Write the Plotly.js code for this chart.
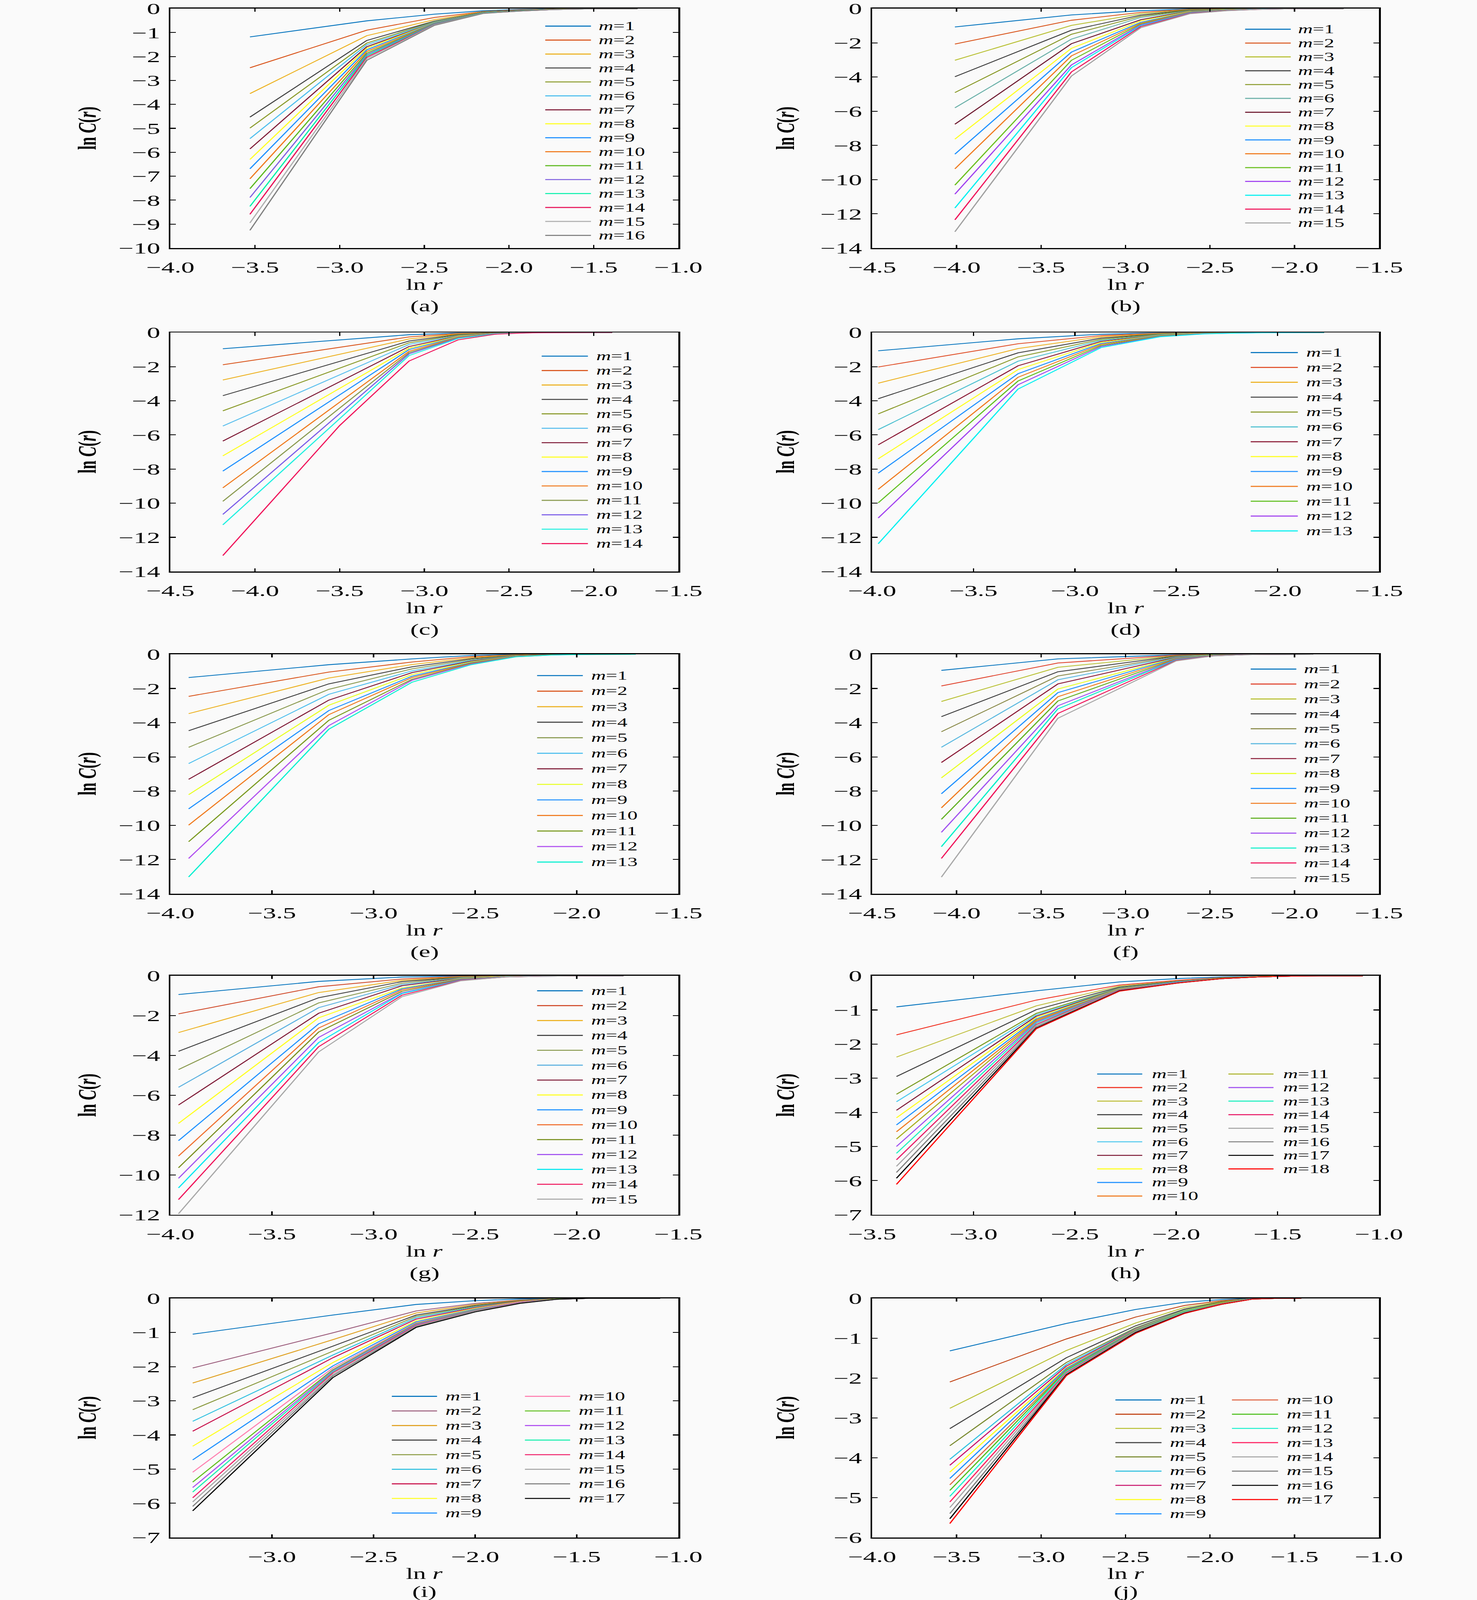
<!DOCTYPE html>
<html>
<head>
<meta charset="utf-8">
<script src="https://cdn.plot.ly/plotly-3.0.1.min.js"></script>
<style>
html, body { margin: 0; padding: 0; background: #fafafa; overflow: hidden; }
#wrap { width: 3780px; height: 6857px; transform-origin: 0 0; }
</style>
</head>
<body>
<div id="wrap"><div id="chart" style="width:3780px;height:6857px"></div></div>
<script>
// -----------------------------
// Data: ln r (x) and ln C(r) per embedding dimension m
// -----------------------------
const xA = [-3.53, -2.84, -2.44, -2.15, -1.93, -1.74, -1.59, -1.46, -1.35, -1.24];
const yA = [
  [-1.18, -0.51, -0.23, -0.09, -0.03, -0.01, 0, 0, 0, 0],
  [-2.47, -0.90, -0.37, -0.12, -0.05, -0.02, -0.01, 0, 0, 0],
  [-3.55, -1.13, -0.46, -0.13, -0.06, -0.02, -0.01, 0, 0, 0],
  [-4.53, -1.33, -0.52, -0.14, -0.06, -0.02, -0.01, 0, 0, 0],
  [-4.99, -1.44, -0.54, -0.14, -0.07, -0.03, -0.01, 0, 0, 0],
  [-5.43, -1.51, -0.56, -0.15, -0.07, -0.03, -0.01, 0, 0, 0],
  [-5.86, -1.59, -0.58, -0.15, -0.07, -0.03, -0.01, 0, 0, 0],
  [-6.30, -1.65, -0.59, -0.16, -0.08, -0.03, -0.01, 0, 0, 0],
  [-6.69, -1.72, -0.60, -0.16, -0.08, -0.03, -0.01, 0, 0, 0],
  [-7.11, -1.79, -0.62, -0.17, -0.08, -0.03, -0.01, 0, 0, 0],
  [-7.52, -1.86, -0.63, -0.17, -0.09, -0.03, -0.02, 0, 0, 0],
  [-7.89, -1.92, -0.64, -0.18, -0.09, -0.04, -0.02, 0, 0, 0],
  [-8.26, -1.97, -0.66, -0.18, -0.09, -0.04, -0.02, 0, 0, 0],
  [-8.59, -2.03, -0.67, -0.19, -0.10, -0.04, -0.02, 0, 0, 0],
  [-8.95, -2.09, -0.68, -0.19, -0.10, -0.04, -0.02, 0, 0, 0],
  [-9.26, -2.16, -0.70, -0.20, -0.10, -0.04, -0.02, 0, 0, 0]
];

const xB = [-4.01, -3.32, -2.91, -2.62, -2.40, -2.22, -2.06, -1.93, -1.81, -1.71];
const yB = [
  [-1.07, -0.37, -0.12, -0.02, -0.01, 0, 0, 0, 0, 0],
  [-2.07, -0.68, -0.22, -0.04, -0.02, -0.01, 0, 0, 0, 0],
  [-3.02, -0.98, -0.30, -0.06, -0.03, -0.01, 0, 0, 0, 0],
  [-3.98, -1.26, -0.38, -0.08, -0.03, -0.01, 0, 0, 0, 0],
  [-4.91, -1.50, -0.45, -0.10, -0.04, -0.02, -0.01, 0, 0, 0],
  [-5.80, -1.78, -0.52, -0.12, -0.05, -0.02, -0.01, 0, 0, 0],
  [-6.76, -2.05, -0.65, -0.14, -0.06, -0.02, -0.01, 0, 0, 0],
  [-7.63, -2.32, -0.72, -0.16, -0.06, -0.03, -0.01, 0, 0, 0],
  [-8.51, -2.54, -0.80, -0.18, -0.07, -0.03, -0.01, 0, 0, 0],
  [-9.37, -2.76, -0.85, -0.20, -0.08, -0.03, -0.01, 0, 0, 0],
  [-10.32, -3.02, -0.90, -0.22, -0.09, -0.04, -0.02, 0, 0, 0],
  [-10.85, -3.29, -0.95, -0.24, -0.10, -0.04, -0.02, 0, 0, 0],
  [-11.66, -3.45, -1.00, -0.26, -0.10, -0.04, -0.02, 0, 0, 0],
  [-12.35, -3.70, -1.05, -0.28, -0.11, -0.05, -0.02, 0, 0, 0],
  [-13.05, -3.94, -1.12, -0.30, -0.12, -0.05, -0.02, 0, 0, 0]
];

const xC = [-4.19, -3.50, -3.09, -2.80, -2.58, -2.40, -2.24, -2.11, -1.99, -1.89];
const yC = [
  [-0.95, -0.44, -0.13, -0.03, -0.01, 0, 0, 0, 0, 0],
  [-1.89, -0.87, -0.26, -0.06, -0.01, 0, 0, 0, 0, 0],
  [-2.78, -1.28, -0.38, -0.09, -0.02, 0, 0, 0, 0, 0],
  [-3.70, -1.70, -0.50, -0.12, -0.02, -0.01, 0, 0, 0, 0],
  [-4.59, -2.09, -0.60, -0.15, -0.03, -0.01, 0, 0, 0, 0],
  [-5.48, -2.48, -0.70, -0.18, -0.04, -0.01, 0, 0, 0, 0],
  [-6.36, -2.89, -0.82, -0.20, -0.04, -0.01, 0, 0, 0, 0],
  [-7.23, -3.27, -0.92, -0.22, -0.05, -0.01, 0, 0, 0, 0],
  [-8.12, -3.66, -1.00, -0.25, -0.05, -0.01, 0, 0, 0, 0],
  [-9.10, -4.08, -1.10, -0.27, -0.06, -0.02, 0, 0, 0, 0],
  [-9.89, -4.43, -1.18, -0.30, -0.06, -0.02, 0, 0, 0, 0],
  [-10.66, -4.76, -1.25, -0.32, -0.07, -0.02, 0, 0, 0, 0],
  [-11.27, -5.05, -1.35, -0.35, -0.08, -0.02, 0, 0, 0, 0],
  [-13.07, -5.45, -1.67, -0.43, -0.10, -0.02, -0.01, 0, 0, 0]
];

const xD = [-3.97, -3.28, -2.87, -2.58, -2.36, -2.18, -2.02, -1.89, -1.77];
const yD = [
  [-1.07, -0.37, -0.10, -0.02, -0.01, 0, 0, 0, 0],
  [-2.02, -0.66, -0.18, -0.04, -0.01, 0, 0, 0, 0],
  [-2.97, -0.94, -0.25, -0.06, -0.02, -0.01, 0, 0, 0],
  [-3.88, -1.19, -0.33, -0.08, -0.02, -0.01, 0, 0, 0],
  [-4.77, -1.43, -0.40, -0.10, -0.03, -0.01, 0, 0, 0],
  [-5.69, -1.68, -0.46, -0.12, -0.03, -0.01, 0, 0, 0],
  [-6.58, -1.95, -0.52, -0.14, -0.04, -0.01, 0, 0, 0],
  [-7.40, -2.17, -0.58, -0.15, -0.04, -0.02, 0, 0, 0],
  [-8.24, -2.41, -0.64, -0.17, -0.05, -0.02, -0.01, 0, 0],
  [-9.19, -2.62, -0.70, -0.19, -0.05, -0.02, -0.01, 0, 0],
  [-9.98, -2.84, -0.76, -0.21, -0.06, -0.02, -0.01, 0, 0],
  [-10.87, -3.06, -0.82, -0.23, -0.07, -0.03, -0.01, 0, 0],
  [-12.38, -3.31, -0.88, -0.25, -0.08, -0.03, -0.01, 0, 0]
];

const xE = [-3.91, -3.22, -2.81, -2.52, -2.30, -2.12, -1.96, -1.83, -1.71];
const yE = [
  [-1.36, -0.61, -0.27, -0.07, -0.01, 0, 0, 0, 0],
  [-2.46, -1.04, -0.45, -0.14, -0.03, -0.01, 0, 0, 0],
  [-3.47, -1.39, -0.60, -0.20, -0.04, -0.01, 0, 0, 0],
  [-4.47, -1.73, -0.73, -0.26, -0.06, -0.01, 0, 0, 0],
  [-5.44, -2.05, -0.85, -0.31, -0.07, -0.02, 0, 0, 0],
  [-6.39, -2.34, -0.97, -0.36, -0.08, -0.02, 0, 0, 0],
  [-7.31, -2.68, -1.07, -0.40, -0.09, -0.02, 0, 0, 0],
  [-8.21, -2.98, -1.18, -0.44, -0.10, -0.03, 0, 0, 0],
  [-9.04, -3.29, -1.28, -0.48, -0.11, -0.03, -0.01, 0, 0],
  [-9.99, -3.53, -1.36, -0.51, -0.12, -0.03, -0.01, 0, 0],
  [-10.96, -3.86, -1.46, -0.54, -0.13, -0.03, -0.01, 0, 0],
  [-11.94, -4.17, -1.52, -0.57, -0.14, -0.04, -0.01, 0, 0],
  [-13.02, -4.38, -1.63, -0.61, -0.15, -0.04, -0.01, 0, 0]
];

const xF = [-4.09, -3.40, -2.99, -2.70, -2.48, -2.30, -2.14, -2.01, -1.89];
const yF = [
  [-0.94, -0.27, -0.13, -0.03, -0.01, 0, 0, 0, 0],
  [-1.85, -0.51, -0.24, -0.05, -0.01, 0, 0, 0, 0],
  [-2.76, -0.76, -0.36, -0.08, -0.02, 0, 0, 0, 0],
  [-3.65, -1.02, -0.48, -0.10, -0.03, -0.01, 0, 0, 0],
  [-4.53, -1.27, -0.60, -0.12, -0.03, -0.01, 0, 0, 0],
  [-5.44, -1.49, -0.70, -0.15, -0.04, -0.01, 0, 0, 0],
  [-6.33, -1.73, -0.82, -0.18, -0.05, -0.01, 0, 0, 0],
  [-7.23, -2.03, -0.96, -0.20, -0.05, -0.02, 0, 0, 0],
  [-8.16, -2.24, -1.06, -0.22, -0.06, -0.02, 0, 0, 0],
  [-8.98, -2.48, -1.17, -0.25, -0.07, -0.02, 0, 0, 0],
  [-9.65, -2.73, -1.29, -0.28, -0.07, -0.02, -0.01, 0, 0],
  [-10.41, -3.01, -1.42, -0.30, -0.08, -0.02, -0.01, 0, 0],
  [-11.25, -3.19, -1.51, -0.33, -0.09, -0.03, -0.01, 0, 0],
  [-11.94, -3.46, -1.64, -0.36, -0.09, -0.03, -0.01, 0, 0],
  [-13.03, -3.74, -1.78, -0.39, -0.10, -0.03, -0.01, 0, 0]
];

const xG = [-3.96, -3.27, -2.86, -2.57, -2.35, -2.17, -2.01, -1.88, -1.77];
const yG = [
  [-0.94, -0.28, -0.06, -0.01, 0, 0, 0, 0, 0],
  [-1.91, -0.55, -0.16, -0.03, -0.01, 0, 0, 0, 0],
  [-2.85, -0.84, -0.23, -0.05, -0.01, 0, 0, 0, 0],
  [-3.79, -1.10, -0.29, -0.07, -0.02, -0.01, 0, 0, 0],
  [-4.71, -1.36, -0.37, -0.08, -0.02, -0.01, 0, 0, 0],
  [-5.60, -1.60, -0.44, -0.10, -0.03, -0.01, 0, 0, 0],
  [-6.49, -1.88, -0.50, -0.12, -0.03, -0.01, 0, 0, 0],
  [-7.41, -2.11, -0.61, -0.13, -0.03, -0.01, 0, 0, 0],
  [-8.28, -2.41, -0.65, -0.15, -0.04, -0.01, 0, 0, 0],
  [-9.05, -2.62, -0.71, -0.17, -0.04, -0.01, 0, 0, 0],
  [-9.64, -2.82, -0.78, -0.18, -0.05, -0.02, -0.01, 0, 0],
  [-10.17, -3.09, -0.86, -0.20, -0.05, -0.02, -0.01, 0, 0],
  [-10.65, -3.35, -0.89, -0.22, -0.05, -0.02, -0.01, 0, 0],
  [-11.24, -3.56, -0.97, -0.23, -0.06, -0.02, -0.01, 0, 0],
  [-11.95, -3.82, -1.05, -0.25, -0.06, -0.02, -0.01, 0, 0]
];

const xH = [-3.38, -2.69, -2.28, -1.99, -1.77, -1.59, -1.43, -1.30, -1.18, -1.08];
const yH = [
  [-0.91, -0.44, -0.18, -0.08, -0.03, -0.01, 0, 0, 0, 0],
  [-1.73, -0.71, -0.27, -0.13, -0.05, -0.02, 0, 0, 0, 0],
  [-2.38, -0.88, -0.30, -0.15, -0.06, -0.02, -0.01, 0, 0, 0],
  [-2.95, -0.99, -0.33, -0.16, -0.06, -0.02, -0.01, 0, 0, 0],
  [-3.47, -1.10, -0.35, -0.17, -0.06, -0.02, -0.01, 0, 0, 0],
  [-3.69, -1.14, -0.36, -0.17, -0.07, -0.02, -0.01, 0, 0, 0],
  [-3.94, -1.18, -0.37, -0.18, -0.07, -0.02, -0.01, 0, 0, 0],
  [-4.16, -1.22, -0.38, -0.18, -0.07, -0.02, -0.01, 0, 0, 0],
  [-4.37, -1.26, -0.39, -0.18, -0.07, -0.03, -0.01, 0, 0, 0],
  [-4.57, -1.29, -0.40, -0.19, -0.07, -0.03, -0.01, 0, 0, 0],
  [-4.78, -1.32, -0.40, -0.19, -0.07, -0.03, -0.01, 0, 0, 0],
  [-5.00, -1.35, -0.41, -0.19, -0.08, -0.03, -0.01, 0, 0, 0],
  [-5.20, -1.38, -0.42, -0.20, -0.08, -0.03, -0.01, 0, 0, 0],
  [-5.39, -1.42, -0.42, -0.20, -0.08, -0.03, -0.01, 0, 0, 0],
  [-5.58, -1.45, -0.43, -0.20, -0.08, -0.03, -0.01, 0, 0, 0],
  [-5.76, -1.49, -0.44, -0.20, -0.08, -0.03, -0.01, 0, 0, 0],
  [-5.93, -1.53, -0.44, -0.21, -0.08, -0.03, -0.01, 0, 0, 0],
  [-6.11, -1.55, -0.45, -0.21, -0.08, -0.03, -0.01, 0, 0, 0]
];

const xI = [-3.39, -2.70, -2.29, -2.00, -1.78, -1.60, -1.44, -1.31, -1.19, -1.09];
const yI = [
  [-1.05, -0.49, -0.18, -0.07, -0.02, 0, 0, 0, 0, 0],
  [-2.04, -1.01, -0.37, -0.15, -0.05, -0.01, 0, 0, 0, 0],
  [-2.48, -1.21, -0.43, -0.18, -0.06, -0.01, 0, 0, 0, 0],
  [-2.91, -1.40, -0.49, -0.21, -0.07, -0.01, 0, 0, 0, 0],
  [-3.26, -1.55, -0.53, -0.23, -0.08, -0.02, 0, 0, 0, 0],
  [-3.60, -1.66, -0.57, -0.25, -0.09, -0.02, 0, 0, 0, 0],
  [-3.89, -1.74, -0.61, -0.27, -0.09, -0.02, 0, 0, 0, 0],
  [-4.33, -1.88, -0.66, -0.29, -0.10, -0.02, 0, 0, 0, 0],
  [-4.73, -1.98, -0.69, -0.31, -0.11, -0.02, 0, 0, 0, 0],
  [-5.09, -2.04, -0.72, -0.32, -0.11, -0.02, 0, 0, 0, 0],
  [-5.38, -2.09, -0.74, -0.33, -0.12, -0.02, 0, 0, 0, 0],
  [-5.54, -2.12, -0.76, -0.34, -0.12, -0.03, 0, 0, 0, 0],
  [-5.67, -2.15, -0.78, -0.35, -0.13, -0.03, 0, 0, 0, 0],
  [-5.84, -2.18, -0.79, -0.36, -0.13, -0.03, 0, 0, 0, 0],
  [-5.96, -2.23, -0.81, -0.37, -0.14, -0.03, 0, 0, 0, 0],
  [-6.09, -2.27, -0.83, -0.38, -0.14, -0.03, 0, 0, 0, 0],
  [-6.22, -2.32, -0.85, -0.40, -0.15, -0.03, 0, 0, 0, 0]
];

const xJ = [-3.54, -2.85, -2.44, -2.15, -1.93, -1.75, -1.60, -1.46];
const yJ = [
  [-1.32, -0.63, -0.28, -0.10, -0.03, 0, 0, 0],
  [-2.10, -1.02, -0.47, -0.18, -0.06, -0.01, 0, 0],
  [-2.76, -1.31, -0.62, -0.23, -0.08, -0.01, 0, 0],
  [-3.27, -1.49, -0.69, -0.27, -0.09, -0.01, 0, 0],
  [-3.70, -1.61, -0.74, -0.29, -0.10, -0.01, 0, 0],
  [-4.04, -1.66, -0.76, -0.30, -0.11, -0.01, 0, 0],
  [-4.19, -1.70, -0.77, -0.31, -0.11, -0.01, 0, 0],
  [-4.36, -1.74, -0.78, -0.31, -0.11, -0.01, 0, 0],
  [-4.52, -1.76, -0.79, -0.32, -0.12, -0.01, 0, 0],
  [-4.68, -1.79, -0.80, -0.33, -0.12, -0.02, 0, 0],
  [-4.82, -1.81, -0.81, -0.33, -0.12, -0.02, 0, 0],
  [-4.97, -1.83, -0.82, -0.34, -0.13, -0.02, 0, 0],
  [-5.11, -1.86, -0.83, -0.35, -0.13, -0.02, 0, 0],
  [-5.25, -1.88, -0.84, -0.35, -0.14, -0.02, 0, 0],
  [-5.40, -1.90, -0.85, -0.36, -0.14, -0.02, 0, 0],
  [-5.53, -1.92, -0.86, -0.37, -0.15, -0.02, 0, 0],
  [-5.65, -1.94, -0.88, -0.38, -0.15, -0.02, 0, 0]
];

// -----------------------------
// Line colours per panel (m = 1, 2, ...)
// -----------------------------
const colA = ["#0072bd", "#d95319", "#edb120", "#404040", "#8a9a2a", "#4dbeee", "#7e1a36", "#ffff20", "#1e90ff", "#f07a1e", "#5cb81e", "#8060e0", "#00f0a8", "#e8145a", "#b0b0b0", "#808080"];
const colB = ["#0072bd", "#d95319", "#b8c032", "#404040", "#8a9a2a", "#6ab0a8", "#6e1a30", "#ffff20", "#1e90ff", "#f07a1e", "#6cc020", "#a040f0", "#00f0f0", "#f0145a", "#a0a0a0"];
const colC = ["#0072bd", "#d95319", "#edb120", "#404040", "#8a9a2a", "#5ec0ee", "#7e1a36", "#ffff20", "#1e90ff", "#f07a1e", "#8a9a50", "#7a5ce8", "#20f0e0", "#f0145a"];
const colD = ["#0072bd", "#e0502a", "#edb120", "#404040", "#8a9a2a", "#4dc0d0", "#8a1a36", "#ffff20", "#1e90ff", "#f07a1e", "#60c020", "#a040f0", "#00f0f0"];
const colE = ["#0072bd", "#d95319", "#edb120", "#404040", "#8a9a50", "#4dbeee", "#7e1a36", "#e8ff20", "#1e90ff", "#f07a1e", "#7a9a20", "#b050f0", "#00f0d0"];
const colF = ["#0072bd", "#e0402a", "#b8c032", "#404040", "#8a8a4a", "#5ab8e0", "#8a1a36", "#e8ff20", "#1e90ff", "#f07a1e", "#60b020", "#a050f0", "#00f0c8", "#f0145a", "#a8a8a8"];
const colG = ["#0072bd", "#d04a2a", "#edb120", "#404040", "#8a9a50", "#5ab0e0", "#7e1a36", "#ffff20", "#1e90ff", "#f07030", "#7a9020", "#a050f0", "#00e8f0", "#f0145a", "#a8a8a8"];
const colH = ["#0072bd", "#f03020", "#c0c040", "#404040", "#7a9a20", "#4dc8ee", "#7e1a36", "#ffff20", "#1e90ff", "#f07a1e", "#a8b020", "#a050f0", "#20f0c0", "#e8206a", "#a8a8a8", "#808080", "#000000", "#ff0000"];
const colI = ["#0072bd", "#9a5a7a", "#e0a020", "#404040", "#8a9a40", "#30c0e0", "#c8104a", "#ffff20", "#1e90ff", "#ff80b0", "#60c020", "#b050f0", "#20f0b0", "#f0206a", "#a8a8a8", "#808080", "#000000"];
const colJ = ["#0072bd", "#c04010", "#b8c032", "#404040", "#7a8a30", "#30c0e0", "#c8106a", "#ffff20", "#1e90ff", "#e06848", "#50c020", "#20f0d0", "#ff2060", "#a8a8a8", "#808080", "#000000", "#ff0000"];

// -----------------------------
// Panel setup: axis ranges + legend placement (domain fractions)
// -----------------------------
const panels = [
  { tag: "(a)", x: xA, y: yA, col: colA, xr: [-4, -1], yr: [-10, 0], ydt: 1,
    leg: { x0: 0.738, x1: 0.828, tx: 0.842, y0: 0.927, step: 59.8, split: 99, c2: 0 } },
  { tag: "(b)", x: xB, y: yB, col: colB, xr: [-4.5, -1.5], yr: [-14, 0], ydt: 2,
    leg: { x0: 0.736, x1: 0.826, tx: 0.840, y0: 0.914, step: 59.3, split: 99, c2: 0 } },
  { tag: "(c)", x: xC, y: yC, col: colC, xr: [-4.5, -1.5], yr: [-14, 0], ydt: 2,
    leg: { x0: 0.731, x1: 0.822, tx: 0.838, y0: 0.901, step: 61.8, split: 99, c2: 0 } },
  { tag: "(d)", x: xD, y: yD, col: colD, xr: [-4, -1.5], yr: [-14, 0], ydt: 2,
    leg: { x0: 0.747, x1: 0.840, tx: 0.856, y0: 0.916, step: 63.7, split: 99, c2: 0 } },
  { tag: "(e)", x: xE, y: yE, col: colE, xr: [-4, -1.5], yr: [-14, 0], ydt: 2,
    leg: { x0: 0.722, x1: 0.812, tx: 0.828, y0: 0.911, step: 66.6, split: 99, c2: 0 } },
  { tag: "(f)", x: xF, y: yF, col: colF, xr: [-4.5, -1.5], yr: [-14, 0], ydt: 2,
    leg: { x0: 0.747, x1: 0.837, tx: 0.851, y0: 0.938, step: 63.9, split: 99, c2: 0 } },
  { tag: "(g)", x: xG, y: yG, col: colG, xr: [-4, -1.5], yr: [-12, 0], ydt: 2,
    leg: { x0: 0.722, x1: 0.812, tx: 0.828, y0: 0.9375, step: 63.8, split: 99, c2: 0 } },
  { tag: "(h)", x: xH, y: yH, col: colH, xr: [-3.5, -1], yr: [-7, 0], ydt: 1,
    leg: { x0: 0.444, x1: 0.533, tx: 0.551, y0: 0.589, step: 58.1, split: 10, c2: 0.259 } },
  { tag: "(i)", x: xI, y: yI, col: colI, xr: [-3.5, -1], yr: [-7, 0], ydt: 1, xticks: [-3, -2.5, -2, -1.5, -1],
    leg: { x0: 0.436, x1: 0.525, tx: 0.541, y0: 0.590, step: 62.5, split: 9, c2: 0.262 } },
  { tag: "(j)", x: xJ, y: yJ, col: colJ, xr: [-4, -1], yr: [-6, 0], ydt: 1,
    leg: { x0: 0.480, x1: 0.571, tx: 0.587, y0: 0.575, step: 61, split: 9, c2: 0.230 } }
];

// pixel boxes of the plot areas in the 3780 x 6857 figure
const W = 3780, H = 6857;
const colPx = [[436, 1736], [2232, 3529]];
const rowPx = [[37, 1063], [1425, 2449], [2804, 3830], [4182, 5206], [5564, 6589]];

const FONT = "Liberation Serif, Times New Roman, serif";
const FS = 68;      // tick labels
const LEG_FS = 52;  // legend rows sit ~60px apart, keep their text boxes from touching

// the window can be shorter than the figure: squeeze it vertically so all of it is in view
const fit = Math.min(1, (window.innerHeight || H) / H);
document.getElementById("wrap").style.transform = "scale(1," + fit + ")";

const traces = [];
const shapes = [];
const annotations = [];
const layout = {
  width: W,
  height: H,
  margin: { l: 0, r: 0, t: 0, b: 0 },
  paper_bgcolor: "#fafafa",
  plot_bgcolor: "#fafafa",
  showlegend: false,
  font: { family: FONT, size: FS, color: "#000" }
};

panels.forEach((p, k) => {
  const c = k % 2, r = Math.floor(k / 2);
  const sfx = k === 0 ? "" : String(k + 1);
  const xa = "x" + sfx, ya = "y" + sfx;
  const plotH = rowPx[r][1] - rowPx[r][0];

  const axBase = {
    showline: true, linecolor: "#000", linewidth: 4.5, mirror: "ticks",
    ticks: "inside", ticklen: 14, tickwidth: 3.5, tickcolor: "#000",
    showgrid: false, zeroline: false, ticklabeloverflow: "allow",
    tickfont: { family: FONT, size: FS, color: "#000" }
  };

  layout["xaxis" + sfx] = Object.assign({}, axBase, {
    anchor: ya,
    domain: [colPx[c][0] / W, colPx[c][1] / W],
    range: p.xr,
    tickformat: ".1f",
    ticklabelstandoff: 20
  }, p.xticks ? { tickmode: "array", tickvals: p.xticks } : { dtick: 0.5, tick0: 0 });

  layout["yaxis" + sfx] = Object.assign({}, axBase, {
    anchor: xa,
    domain: [1 - rowPx[r][1] / H, 1 - rowPx[r][0] / H],
    range: p.yr,
    dtick: p.ydt,
    tick0: 0,
    ticklabelstandoff: 8
  });

  p.y.forEach((vals, i) => {
    traces.push({
      type: "scatter",
      mode: "lines",
      x: p.x,
      y: vals,
      xaxis: xa,
      yaxis: ya,
      name: "m=" + (i + 1),
      line: { color: p.col[i], width: 3.5 },
      hoverinfo: "skip"
    });

    // hand-built legend entry
    const L = p.leg;
    const inCol2 = i >= L.split;
    const row = inCol2 ? i - L.split : i;
    const dx = inCol2 ? L.c2 : 0;
    const yy = L.y0 - (row * L.step) / plotH;
    shapes.push({
      type: "line", xref: xa + " domain", yref: ya + " domain",
      x0: L.x0 + dx, x1: L.x1 + dx, y0: yy, y1: yy,
      line: { color: p.col[i], width: 4.5 }
    });
    annotations.push({
      xref: xa + " domain", yref: ya + " domain",
      x: L.tx + dx, y: yy, xanchor: "left", yanchor: "middle",
      text: "<i>m</i>=" + (i + 1), showarrow: false, borderpad: 0,
      font: { family: FONT, size: LEG_FS, color: "#000" }
    });
  });

  // axis titles and panel tag
  annotations.push({
    xref: xa + " domain", yref: ya + " domain", x: 0, y: 0.5,
    xshift: c === 0 ? -213 : -222, xanchor: "center", yanchor: "middle",
    textangle: -90, text: "<b>ln <i>C</i>(<i>r</i>)</b>", showarrow: false,
    font: { family: FONT, size: 66, color: "#000" }
  });
  annotations.push({
    xref: xa + " domain", yref: ya + " domain", x: 0.5, y: 0,
    yshift: r === 4 ? -155 : -157, xanchor: "center", yanchor: "middle",
    text: "ln <i>r</i>", showarrow: false, borderpad: 0,
    font: { family: FONT, size: 66, color: "#000" }
  });
  annotations.push({
    xref: xa + " domain", yref: ya + " domain", x: 0.5, y: 0,
    yshift: r === 4 ? -232 : -250, xanchor: "center", yanchor: "middle",
    text: p.tag, showarrow: false, borderpad: 0,
    font: { family: FONT, size: 66, color: "#000" }
  });
});

layout.shapes = shapes;
layout.annotations = annotations;

Plotly.newPlot("chart", traces, layout, { displayModeBar: false, staticPlot: true });
</script>
</body>
</html>
